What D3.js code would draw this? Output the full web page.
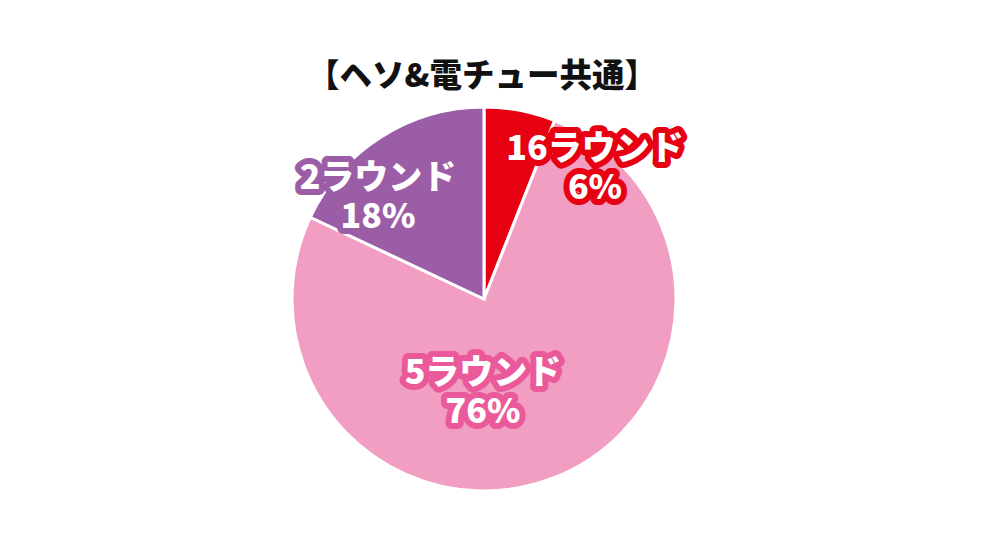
<!DOCTYPE html>
<html><head><meta charset="utf-8">
<script src="https://cdn.jsdelivr.net/npm/d3@7/dist/d3.min.js"></script>
<style>html,body{margin:0;padding:0;background:#fff;}</style>
</head><body>
<svg id="c" width="1000" height="545"></svg>
<script>
const title = "【ヘソ&電チュー共通】";
const categories = ["16ラウンド", "5ラウンド", "2ラウンド"];
const values = [6, 76, 18];
const colors = ["#e60012", "#f19ec2", "#9b5ea6"];
const strokeColors = ["#e60012", "#ea5a9a", "#9b5ea6"];
const labelPos = [[595, 148], [483, 372], [378, 177]];

const svg = d3.select("#c");
const cx = 484, cy = 299, r = 192;
const font = "'Noto Sans CJK JP', 'Noto Sans', sans-serif";

svg.append("text").attr("x", 482).attr("y", 87).attr("text-anchor", "middle")
  .attr("font-family", font).attr("font-weight", 900).attr("font-size", 32.5)
  .attr("fill", "#111").text(title);

const pie = d3.pie().sort(null).value(d => d)(values);
const arc = d3.arc().innerRadius(0).outerRadius(r);
const g = svg.append("g").attr("transform", `translate(${cx},${cy})`);
g.selectAll("path").data(pie).join("path")
  .attr("d", arc).attr("fill", (d, i) => colors[i])
  .attr("stroke", "#fff").attr("stroke-width", 3).attr("stroke-linejoin", "miter");

const lab = svg.append("g");
categories.forEach((c, i) => {
  const [x, y] = labelPos[i];
  const t = lab.append("text").attr("text-anchor", "middle")
    .attr("font-family", font).attr("font-weight", 900).attr("font-size", 34)
    .attr("fill", "#fff").attr("stroke", strokeColors[i]).attr("stroke-width", 12)
    .attr("stroke-linejoin", "round").attr("paint-order", "stroke");
  t.append("tspan").attr("x", x).attr("y", y + 12).text(c);
  t.append("tspan").attr("x", x).attr("y", y + 51).text(values[i] + "%");
});
</script>
</body></html>
